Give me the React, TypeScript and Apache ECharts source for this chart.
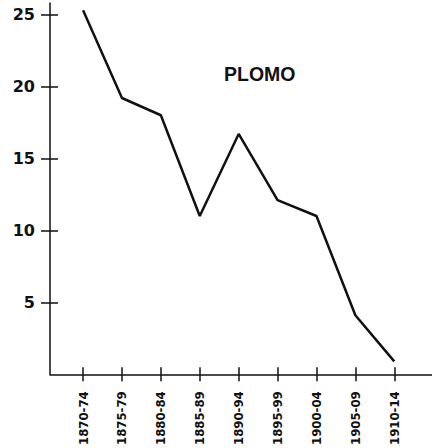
import React, { useEffect, useRef } from "react";
import * as echarts from "echarts";

const categories = ["1870-74", "1875-79", "1880-84", "1885-89", "1890-94", "1895-99", "1900-04", "1905-09", "1910-14"];
const values = [25.3, 19.2, 18.0, 11.0, 16.7, 12.1, 11.0, 4.1, 0.9];
const yTicks = [5, 10, 15, 20, 25];
const title = "PLOMO";

export default function App() {
  const ref = useRef<HTMLDivElement>(null);
  useEffect(() => {
    if (!ref.current) return;
    const chart = echarts.init(ref.current, null, { renderer: "svg" });
    const idx = categories.map((_, i) => i);
    const axisCommon = {
      type: "value" as const,
      splitLine: { show: false },
    };
    chart.setOption({
      animation: false,
      backgroundColor: "#ffffff",
      title: {
        text: title,
        left: 219,
        top: 59,
        textStyle: { fontFamily: "Liberation Sans", fontWeight: "bold", fontSize: 19.5, color: "#111" },
      },
      grid: { left: 50, right: 0, top: 3, bottom: 73, containLabel: false },
      xAxis: [
        {
          ...axisCommon,
          min: -0.85,
          max: 8.97,
          axisLine: { show: true, onZero: false, lineStyle: { color: "#111", width: 1.5 } },
          axisTick: { show: true, customValues: idx, length: 7, lineStyle: { color: "#111", width: 1.5 } },
          axisLabel: {
            show: true,
            customValues: idx,
            rotate: 90,
            margin: 17,
            formatter: (v: number) => categories[Math.round(v)] ?? "",
            fontFamily: "DejaVu Sans Condensed",
            fontWeight: "bold",
            fontSize: 13,
            color: "#111",
          },
        },
        {
          ...axisCommon,
          position: "bottom",
          offset: 0,
          min: -0.85,
          max: 8.97,
          axisLine: { show: true, onZero: false, lineStyle: { color: "rgba(0,0,0,0)" } },
          axisTick: { show: true, inside: true, customValues: idx, length: 7, lineStyle: { color: "#111", width: 1.5 } },
          axisLabel: { show: false, customValues: idx },
        },
      ],
      yAxis: [
        {
          ...axisCommon,
          min: 0,
          max: 25.8,
          axisLine: { show: true, onZero: false, lineStyle: { color: "#111", width: 1.5 } },
          axisTick: { show: true, customValues: yTicks, length: 9, lineStyle: { color: "#111", width: 1.5 } },
          axisLabel: {
            show: true,
            customValues: yTicks,
            margin: 15,
            fontFamily: "DejaVu Sans",
            fontWeight: "bold",
            fontSize: 16,
            color: "#111",
          },
        },
        {
          ...axisCommon,
          position: "left",
          offset: 0,
          min: 0,
          max: 25.8,
          axisLine: { show: true, onZero: false, lineStyle: { color: "rgba(0,0,0,0)" } },
          axisTick: { show: true, inside: true, customValues: yTicks, length: 8, lineStyle: { color: "#111", width: 1.5 } },
          axisLabel: { show: false, customValues: yTicks },
        },
      ],
      series: [
        {
          type: "line",
          data: values.map((v, i) => [i, v]),
          showSymbol: false,
          lineStyle: { color: "#111", width: 2.5 },
          xAxisIndex: 0,
          yAxisIndex: 0,
        },
      ],
    });
    return () => chart.dispose();
  }, []);
  return (
    <div
      ref={ref}
      style={{ position: "fixed", left: 0, top: 0, width: 432, height: 448 }}
    />
  );
}
